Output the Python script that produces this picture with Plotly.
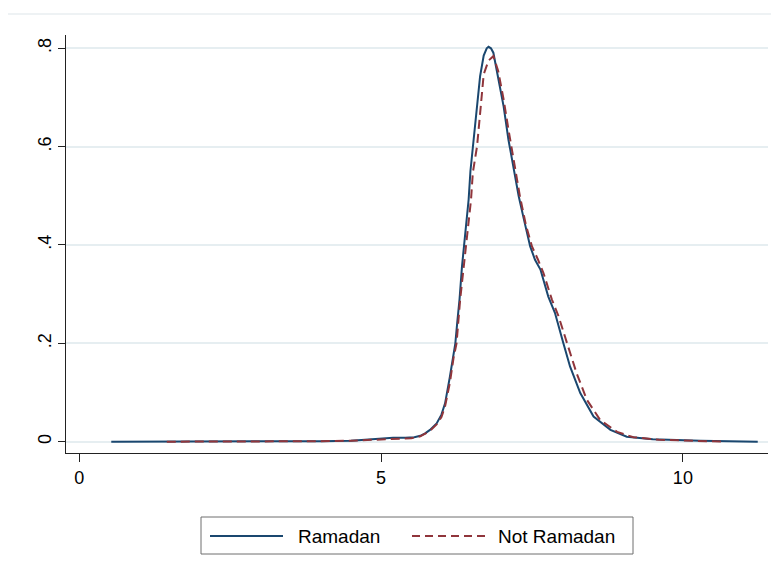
import plotly.graph_objects as go

# ---- data (kernel densities) ----
ram_x = [0.53, 1.5, 3.0, 4.0, 4.5, 4.8, 5.0, 5.2, 5.4, 5.55, 5.65, 5.73, 5.81, 5.92,
         6.0, 6.06, 6.14, 6.20, 6.23, 6.26, 6.30, 6.34, 6.39, 6.45, 6.48, 6.52, 6.58,
         6.64, 6.70, 6.75, 6.78, 6.82, 6.86, 6.94, 7.03, 7.11, 7.19, 7.28, 7.37, 7.47,
         7.55, 7.64, 7.77, 7.88, 8.02, 8.13, 8.30, 8.52, 8.80, 9.07, 9.5, 10.29, 11.24]
ram_y = [0.0, 0.0, 0.0, 0.001, 0.002, 0.005, 0.007, 0.008, 0.008, 0.009, 0.012, 0.017,
         0.024, 0.037, 0.055, 0.078, 0.132, 0.18, 0.2, 0.24, 0.29, 0.356, 0.424, 0.492,
         0.55, 0.60, 0.68, 0.743, 0.785, 0.80, 0.803, 0.80, 0.791, 0.737, 0.682, 0.614,
         0.560, 0.499, 0.45, 0.397, 0.37, 0.35, 0.295, 0.262, 0.2, 0.153, 0.099, 0.051,
         0.024, 0.010, 0.005, 0.002, 0.0]

not_x = [1.45, 3.0, 4.0, 4.5, 5.0, 5.3, 5.5, 5.65, 5.73, 5.81, 5.92, 6.0, 6.06, 6.14,
         6.20, 6.25, 6.31, 6.37, 6.42, 6.49, 6.52, 6.59, 6.65, 6.70, 6.78, 6.86, 6.94,
         7.03, 7.11, 7.19, 7.30, 7.40, 7.50, 7.60, 7.69, 7.83, 7.94, 8.10, 8.24, 8.41,
         8.63, 8.91, 9.18, 9.6, 10.29, 10.69]
not_y = [0.0, 0.0, 0.001, 0.002, 0.004, 0.006, 0.007, 0.011, 0.016, 0.022, 0.035, 0.05,
         0.072, 0.12, 0.17, 0.2, 0.289, 0.356, 0.424, 0.492, 0.547, 0.601, 0.68, 0.747,
         0.775, 0.784, 0.754, 0.696, 0.635, 0.58, 0.499, 0.44, 0.397, 0.37, 0.343, 0.289,
         0.255, 0.193, 0.139, 0.085, 0.044, 0.020, 0.009, 0.004, 0.002, 0.0]

x_ticks = [0, 5, 10]
x_tick_labels = ["0", "5", "10"]
y_ticks = [0, 0.2, 0.4, 0.6, 0.8]
y_tick_labels = ["0", ".2", ".4", ".6", ".8"]
series_names = ["Ramadan", "Not Ramadan"]

NAVY = "#1a476f"
MAROON = "#90353b"
GRID = "#e6eef1"
FONT = "Arial, Liberation Sans, sans-serif"

OFF = 8  # default page body margin
W, H = 779 - OFF, 571 - OFF
# plot area in screen pixels: x 66..768, y 35..453
L, R, T, B = 66 - OFF, 779 - 768, 35 - OFF, 571 - 453
PW, PH = W - L - R, H - T - B


def px(xs):
    return (xs - OFF - L) / PW


def py(ys):
    return (H - B - (ys - OFF)) / PH


fig = go.Figure()
fig.add_trace(go.Scatter(x=ram_x, y=ram_y, mode="lines", name=series_names[0],
                         line=dict(color=NAVY, width=2), showlegend=False))
fig.add_trace(go.Scatter(x=not_x, y=not_y, mode="lines", name=series_names[1],
                         line=dict(color=MAROON, width=2, dash="9px,5px"),
                         showlegend=False))

shapes = [
    # faint outer line at top
    dict(type="line", xref="paper", yref="paper", x0=px(8), x1=px(779),
         y0=py(14), y1=py(14), line=dict(color="#e8eef0", width=1.5)),
    # legend box
    dict(type="rect", xref="paper", yref="paper", x0=px(201), x1=px(633),
         y0=py(554), y1=py(517), line=dict(color="#6e6e6e", width=1),
         fillcolor="white"),
    dict(type="line", xref="paper", yref="paper", x0=px(210), x1=px(283),
         y0=py(536), y1=py(536), line=dict(color=NAVY, width=2)),
    dict(type="line", xref="paper", yref="paper", x0=px(412), x1=px(487),
         y0=py(536), y1=py(536), line=dict(color=MAROON, width=2, dash="8px,5px")),
]
annotations = [
    dict(xref="paper", yref="paper", x=px(296), y=py(536), text=series_names[0],
         showarrow=False, xanchor="left", yanchor="middle",
         font=dict(family=FONT, size=19, color="black")),
    dict(xref="paper", yref="paper", x=px(496), y=py(536), text=series_names[1],
         showarrow=False, xanchor="left", yanchor="middle",
         font=dict(family=FONT, size=19, color="black")),
]

fig.update_layout(
    width=W, height=H,
    margin=dict(l=L, r=R, t=T, b=B, pad=0),
    paper_bgcolor="white", plot_bgcolor="white",
    font=dict(family=FONT, size=18, color="black"),
    showlegend=False,
    shapes=shapes, annotations=annotations,
    xaxis=dict(range=[-0.22, 11.41], tickvals=x_ticks, ticktext=x_tick_labels,
               showgrid=False, zeroline=False, showline=True, linecolor="#222",
               linewidth=1, ticks="outside", ticklen=8, tickcolor="#222",
               tickfont=dict(size=18)),
    yaxis=dict(range=[-0.023, 0.827], tickvals=y_ticks, ticktext=y_tick_labels,
               showgrid=True, gridcolor=GRID, gridwidth=2, zeroline=False,
               showline=True, linecolor="#222", linewidth=1, ticks="outside",
               ticklen=7, tickcolor="#222", tickangle=-90,
               tickfont=dict(size=18)),
)

fig.write_html("out.html")
